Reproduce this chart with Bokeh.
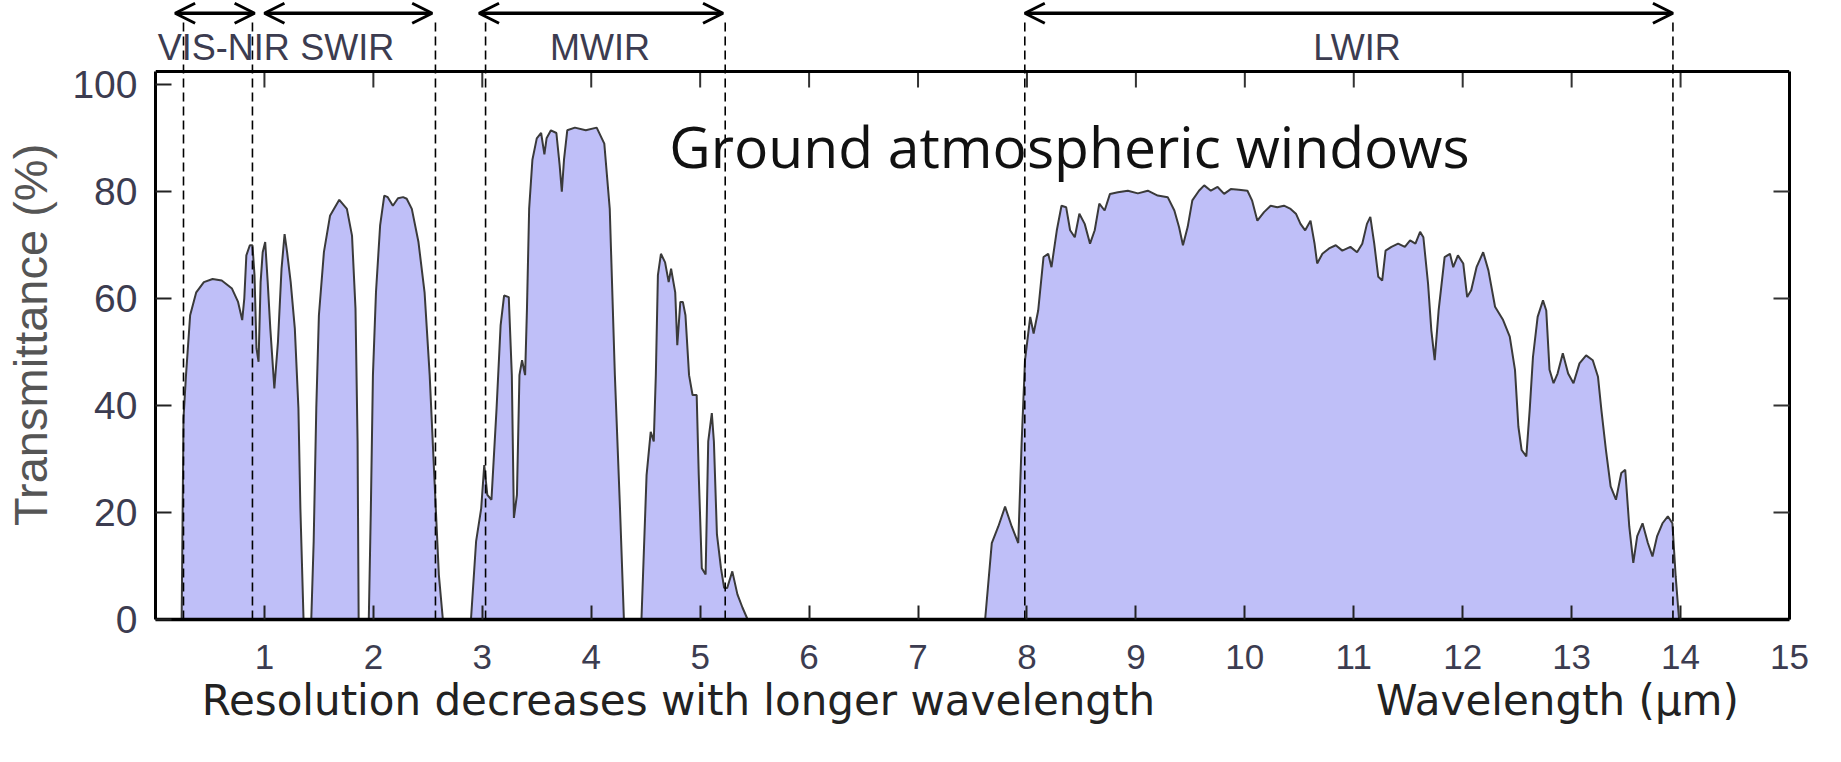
from bokeh.plotting import figure
from bokeh.models import (Range1d, LinearAxis, FixedTicker, Label, Arrow, OpenHead, Span,
                          CustomJSTickFormatter, ColumnDataSource)
from bokeh.embed import file_html
from bokeh.resources import INLINE

# ---------------- data ----------------
wavelength_um = [
    0.24, 0.257, 0.28, 0.318, 0.374, 0.444, 0.524, 0.608, 0.702, 0.758, 0.796, 0.815, 0.834, 0.866,
    0.89, 0.909, 0.927, 0.946, 0.965, 0.984, 1.007, 1.03, 1.054, 1.091, 1.124, 1.157, 1.185, 1.208,
    1.241, 1.279, 1.312, 1.33, 1.359,
    1.43, 1.452, 1.476, 1.5, 1.546, 1.602, 1.687, 1.757, 1.804, 1.836, 1.855, 1.865,
    1.958, 1.977, 1.996, 2.024, 2.062, 2.1, 2.132, 2.179, 2.226, 2.273, 2.306, 2.353, 2.414, 2.47,
    2.517, 2.559, 2.601, 2.638,
    2.896, 2.943, 2.99, 3.018, 3.046, 3.084, 3.131, 3.168, 3.2, 3.243, 3.271, 3.29, 3.318, 3.341,
    3.365, 3.393, 3.41, 3.43, 3.46, 3.5, 3.54, 3.57, 3.59, 3.63, 3.68, 3.71, 3.73, 3.75, 3.78, 3.85,
    3.95, 4.05, 4.12, 4.17, 4.217, 4.264, 4.3,
    4.461, 4.508, 4.546, 4.574, 4.593, 4.612, 4.64, 4.678, 4.711, 4.733, 4.771, 4.79, 4.818, 4.841,
    4.865, 4.898, 4.93, 4.968, 4.987, 5.015, 5.05, 5.074, 5.107, 5.126, 5.154, 5.191, 5.22, 5.248,
    5.295, 5.342, 5.389, 5.436,
    7.616, 7.677, 7.737, 7.799, 7.86, 7.92, 7.951, 7.982, 8.03, 8.061, 8.103, 8.152, 8.195, 8.225,
    8.274, 8.317, 8.36, 8.396, 8.439, 8.481, 8.53, 8.579, 8.622, 8.664, 8.713, 8.762, 8.835, 8.926,
    9.018, 9.109, 9.2, 9.292, 9.353, 9.396, 9.432, 9.475, 9.518, 9.579, 9.627, 9.688, 9.75, 9.81,
    9.871, 9.945, 10.024, 10.066, 10.115, 10.176, 10.237, 10.298, 10.359, 10.42, 10.469, 10.511,
    10.554, 10.603, 10.64, 10.664, 10.712, 10.773, 10.835, 10.895, 10.969, 11.03, 11.078, 11.121,
    11.152, 11.188, 11.225, 11.261, 11.292, 11.346, 11.407, 11.469, 11.517, 11.566, 11.609, 11.639,
    11.682, 11.712, 11.743, 11.779, 11.834, 11.883, 11.913, 11.956, 12.005, 12.041, 12.078, 12.127,
    12.188, 12.236, 12.297, 12.371, 12.432, 12.48, 12.511, 12.541, 12.584, 12.615, 12.645, 12.688,
    12.737, 12.767, 12.797, 12.834, 12.871, 12.919, 12.968, 13.017, 13.072, 13.133, 13.194, 13.242,
    13.273, 13.315, 13.358, 13.407, 13.456, 13.492, 13.529, 13.566, 13.602, 13.651, 13.7, 13.742,
    13.785, 13.834, 13.883, 13.925, 13.955, 13.986,
]
transmittance_pct = [
    0, 37.6, 45.7, 56.9, 61.2, 63.1, 63.7, 63.4, 61.9, 59.4, 56.0, 60.0, 68.1, 70.0,
    70.0, 64.4, 50.7, 48.2, 63.1, 68.7, 70.6, 63.1, 54.4, 43.2, 51.9, 65.6, 72.1, 68.7,
    63.1, 54.4, 39.5, 20.8, 0,
    0, 14.6, 39.5, 56.9, 68.7, 75.5, 78.5, 76.8, 71.8, 58.1, 33.3, 0,
    0, 20.8, 45.7, 61.2, 73.7, 79.3, 79.0, 77.4, 78.8, 79.0, 78.7, 76.8, 70.6, 61.2,
    45.7, 27.0, 8.4, 0,
    0, 14.6, 20.8, 28.9, 23.3, 22.4, 39.5, 55.0, 60.6, 60.3, 45.7, 19.0, 23.3, 45.7,
    48.5, 45.7, 58.1, 76.8, 86.0, 90.0, 91.0, 87.0, 90.0, 91.5, 91.0, 85.0, 80.0, 86.0, 91.5, 92.0,
    91.5, 92.0, 89.0, 76.8, 45.7, 20.8, 0,
    0, 27.0, 35.1, 33.3, 45.7, 64.4, 68.4, 66.8, 63.1, 65.6, 61.2, 51.3, 59.4, 59.4,
    56.9, 45.7, 42.0, 42.0, 27.0, 9.6, 8.4, 33.3, 38.6, 33.3, 15.9, 9.6, 5.9, 5.9,
    9.0, 4.7, 2.2, 0,
    0, 14.3, 17.4, 21.1, 17.4, 14.3, 33.0, 48.5, 56.6, 53.5, 57.8, 67.8, 68.4, 65.9,
    72.8, 77.4, 77.1, 72.8, 71.5, 75.9, 74.0, 70.3, 72.8, 77.8, 76.5, 79.6, 79.9, 80.2,
    79.7, 80.2, 79.3, 79.0, 76.5, 73.4, 70.0, 73.4, 78.4, 80.2, 81.2, 80.2, 80.9, 79.6,
    80.5, 80.4, 80.2, 78.4, 74.6, 76.2, 77.4, 77.1, 77.4, 76.8, 75.9, 74.0,
    72.8, 74.6, 70.3, 66.6, 68.4, 69.4, 70.0, 69.0, 69.7, 68.7, 70.3, 74.0,
    75.3, 70.3, 64.1, 63.4, 69.0, 69.7, 70.3, 69.7, 70.9, 70.3, 72.5, 71.5,
    62.8, 54.1, 48.5, 57.8, 67.8, 68.4, 65.9, 68.1, 66.6, 60.3, 61.6, 65.9,
    68.7, 65.3, 58.5, 56.0, 52.9, 46.7, 36.1, 31.7, 30.5, 39.2, 49.1, 56.6,
    59.7, 57.8, 46.7, 44.2, 46.0, 49.8, 46.0, 44.2, 47.9, 49.4, 48.5, 45.4,
    39.2, 31.7, 24.9, 22.4, 27.4, 28.0, 17.4, 10.6, 15.6, 18.0, 14.3, 11.8,
    15.6, 18.0, 19.3, 18.0, 8.1, 0,
]

band_names = ["VIS-NIR", "SWIR", "MWIR", "LWIR"]
band_start_um = [0.18, 1.0, 2.97, 7.98]
band_end_um = [0.91, 2.54, 5.21, 13.93]
band_edges_um = [0.257, 0.89, 2.57, 3.03, 5.23, 7.98, 13.93]

x_ticks = list(range(1, 16))
y_ticks = [0, 20, 40, 60, 80, 100]

title_text = "Ground atmospheric windows"
note_text = "Resolution decreases with longer wavelength"
x_label = "Wavelength (\u03bcm)"
y_label = "Transmittance (%)"

# ---------------- layout constants ----------------
W, H = 1825, 746
FRAME_L, FRAME_R = 155, 36
X0, X1 = 0.0, 15.0
Y_BOX = 102.5                 # top edge of the plotting box
FRAME_H = 619                 # frame incl. strip above the box
BOX_H = 548
Y_TOP = Y_BOX * FRAME_H / BOX_H
DARK = "#3c3c50"
TICK_FONT = "Liberation Sans"

p = figure(width=W, height=H, output_backend="svg", toolbar_location=None,
           x_range=Range1d(X0, X1), y_range=Range1d(0, Y_TOP),
           min_border_left=FRAME_L, min_border_right=FRAME_R, min_border_top=0,
           min_border_bottom=H - FRAME_H,
           x_axis_location=None, y_axis_location=None)
p.background_fill_color = "white"
p.border_fill_color = "white"
p.xgrid.visible = False
p.ygrid.visible = False
p.outline_line_color = None


def plain_axis(ax):
    ax.axis_line_color = None
    ax.major_tick_line_color = None
    ax.minor_tick_line_color = None
    ax.major_tick_in = 0
    ax.major_tick_out = 0


# bottom wavelength axis
xb = LinearAxis(ticker=FixedTicker(ticks=x_ticks))
xb.axis_line_color = "black"
xb.axis_line_width = 3.5
xb.major_tick_in = 14
xb.major_tick_out = 0
xb.major_tick_line_width = 2
xb.major_tick_line_color = "#222222"
xb.minor_tick_line_color = None
xb.major_label_text_font = TICK_FONT
xb.major_label_text_font_size = "35px"
xb.major_label_text_color = DARK
xb.major_label_standoff = 25
p.add_layout(xb, "below")

# second row under the axis: the note and the axis title, placed at wavelengths
note_pos = [4.8, 12.87]
xn = LinearAxis(ticker=FixedTicker(ticks=note_pos),
                major_label_overrides={note_pos[0]: note_text, note_pos[1]: x_label})
plain_axis(xn)
xn.major_label_text_font = "DejaVu Sans"
xn.major_label_text_font_size = "42px"
xn.major_label_text_color = "#222222"
xn.major_label_standoff = 4
p.add_layout(xn, "below")

# left transmittance axis
yl = LinearAxis(ticker=FixedTicker(ticks=y_ticks), bounds=(0, Y_BOX))
yl.axis_line_color = "black"
yl.axis_line_width = 3
yl.major_tick_in = 16
yl.major_tick_out = 0
yl.major_tick_line_width = 2
yl.major_tick_line_color = "#222222"
yl.minor_tick_line_color = None
yl.major_label_text_font = TICK_FONT
yl.major_label_text_font_size = "39px"
yl.major_label_text_color = DARK
yl.major_label_standoff = 18
p.add_layout(yl, "left")

# axis title placed beside the box (not centred on the whole frame)
ylab_pos = [Y_BOX / 2 + 2.0]
ylab = LinearAxis(ticker=FixedTicker(ticks=ylab_pos),
                  major_label_overrides={ylab_pos[0]: y_label})
plain_axis(ylab)
ylab.major_label_orientation = "vertical"
ylab.major_label_text_font = "Liberation Sans"
ylab.major_label_text_font_size = "47px"
ylab.major_label_text_color = "#555555"
ylab.major_label_standoff = 12
p.add_layout(ylab, "left")

empty = CustomJSTickFormatter(code="return ''")
yr = LinearAxis(ticker=FixedTicker(ticks=[20, 40, 60, 80]), formatter=empty, bounds=(0, Y_BOX))
yr.axis_line_color = "black"
yr.axis_line_width = 3
yr.major_tick_in = 16
yr.major_tick_out = 0
yr.major_tick_line_width = 2
yr.major_tick_line_color = "#333333"
yr.minor_tick_line_color = None
yr.major_label_standoff = 0
p.add_layout(yr, "right")

# top edge of the box, with inward ticks at the same wavelengths as the bottom axis
p.add_layout(Span(location=Y_BOX, dimension="width", line_color="black", line_width=3))
top_ticks = x_ticks[:-1]
p.segment(x0=top_ticks, x1=top_ticks, y0=[Y_BOX] * len(top_ticks),
          y1=[Y_BOX - 3.0] * len(top_ticks), line_color="#333333", line_width=2)

src = ColumnDataSource(data=dict(x=wavelength_um, y=transmittance_pct,
                                 z=[0] * len(wavelength_um)))
p.varea(x="x", y1="z", y2="y", source=src, fill_color="#bfbff8")
p.line(x="x", y="y", source=src, line_color="#3a3a3a", line_width=2)

# band boundaries and arrows
p.segment(x0=band_edges_um, x1=band_edges_um, y0=[0] * len(band_edges_um),
          y1=[112.6] * len(band_edges_um), line_color="black", line_width=1.6, line_dash="9 5")

label_x = [0.02, 1.76, 4.08, 11.03]
label_align = ["left", "center", "center", "center"]
for name, s, e, lx, la in zip(band_names, band_start_um, band_end_um, label_x, label_align):
    p.add_layout(Arrow(x_start=s, y_start=113.4, x_end=e, y_end=113.4,
                       start=OpenHead(size=20, line_width=3, line_color="black"),
                       end=OpenHead(size=20, line_width=3, line_color="black"),
                       line_color="black", line_width=3.5))
    p.add_layout(Label(x=lx, y=107.0, text=name, text_align=la, text_baseline="middle",
                       text_font="Liberation Sans", text_font_size="36px", text_color=DARK))

p.add_layout(Label(x=8.39, y=88.6, text=title_text, text_align="center", text_baseline="middle",
                   text_font="Open Sans", text_font_size="57px", text_color="#111111"))

open("out.html", "w").write(file_html(p, INLINE))
